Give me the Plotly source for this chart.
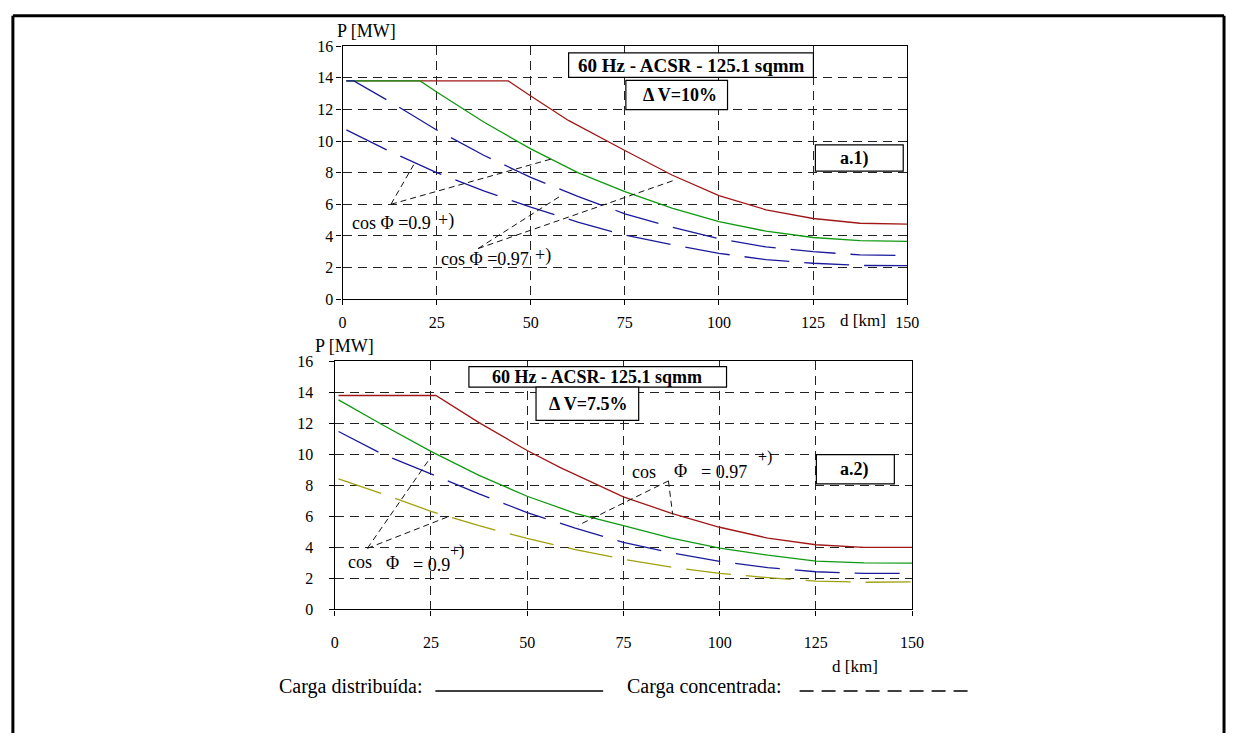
import plotly.graph_objects as go

W, H = 1238, 742
FONT = "Liberation Serif, Times New Roman, serif"

# ---------------- data: top chart (a.1, dV = 10 %) ----------------
d_top_red = [1, 44, 50, 60, 75, 87.5, 100, 112.5, 125, 137.5, 150]
p_top_red = [13.8, 13.8, 12.85, 11.3, 9.4, 7.85, 6.55, 5.65, 5.1, 4.8, 4.75]

d_top_green = [1, 20.6, 25, 37.5, 50, 62.5, 75, 87.5, 100, 112.5, 125, 137.5, 150]
p_top_green = [13.8, 13.8, 13.1, 11.2, 9.5, 8.0, 6.8, 5.75, 4.9, 4.3, 3.9, 3.7, 3.65]

d_top_blue1 = [1, 3, 12.5, 25, 37.5, 50, 62.5, 75, 87.5, 100, 112.5, 125, 137.5, 150]
p_top_blue1 = [13.8, 13.8, 12.5, 10.7, 9.1, 7.7, 6.5, 5.4, 4.55, 3.83, 3.3, 3.0, 2.8, 2.76]

d_top_blue2 = [1, 12.5, 25, 37.5, 50, 62.5, 75, 87.5, 100, 112.5, 125, 137.5, 150]
p_top_blue2 = [10.7, 9.35, 8.0, 6.85, 5.82, 4.87, 4.05, 3.44, 2.9, 2.5, 2.27, 2.13, 2.12]

# leader lines (top chart), pairs of [start, end]
lead_top_d = [[12.85, 18.9], [12.85, 56.0], [36.0, 58.2], [36.0, 88.4]]
lead_top_p = [[6.0, 8.5], [6.0, 8.9], [3.2, 6.57], [3.2, 7.54]]

# ---------------- data: bottom chart (a.2, dV = 7.5 %) ----------------
d_bot_red = [1, 26.3, 37.5, 50, 58.5, 75, 87.5, 100, 112.5, 125, 137.5, 150]
p_bot_red = [13.8, 13.8, 12.05, 10.25, 9.16, 7.26, 6.2, 5.3, 4.6, 4.17, 4.0, 4.0]

d_bot_green = [1, 12.5, 25, 37.5, 50, 62.5, 75, 87.5, 100, 112.5, 125, 137.5, 150]
p_bot_green = [13.52, 11.9, 10.2, 8.65, 7.3, 6.2, 5.4, 4.6, 3.96, 3.5, 3.11, 3.0, 2.99]

d_bot_blue = [1, 12.5, 25, 37.5, 50, 62.5, 75, 87.5, 100, 112.5, 125, 137.5, 150]
p_bot_blue = [11.48, 10.0, 8.75, 7.45, 6.25, 5.25, 4.33, 3.65, 3.1, 2.7, 2.43, 2.32, 2.32]

d_bot_olive = [1, 12.5, 25, 37.5, 50, 62.5, 75, 87.5, 100, 112.5, 125, 137.5, 150]
p_bot_olive = [8.42, 7.45, 6.33, 5.4, 4.58, 3.86, 3.24, 2.72, 2.33, 2.05, 1.82, 1.75, 1.77]

lead_bot_d = [[8.5, 24.9], [8.5, 29.9], [86.7, 63.3], [86.7, 87.8]]
lead_bot_p = [[3.94, 9.8], [3.94, 6.02], [8.29, 5.43], [8.29, 6.13]]

x_ticks = [0, 25, 50, 75, 100, 125, 150]
y_ticks = [0, 2, 4, 6, 8, 10, 12, 14, 16]

RED = "#A01818"
GREEN = "#119911"
BLUE = "#1A1A9A"
OLIVE = "#A0A010"
CONC_DASH = "45px,15px"


def X(px):
    return px / W


def Y(py):
    return 1 - py / H


fig = go.Figure()


def curve(d, p, color, dashed, xa, ya):
    fig.add_trace(go.Scatter(
        x=d, y=p, mode="lines", xaxis=xa, yaxis=ya, showlegend=False,
        hoverinfo="skip",
        line=dict(color=color, width=1.3, dash=CONC_DASH if dashed else "solid")))


curve(d_top_red, p_top_red, RED, False, "x", "y")
curve(d_top_green, p_top_green, GREEN, False, "x", "y")
curve(d_top_blue1, p_top_blue1, BLUE, True, "x", "y")
curve(d_top_blue2, p_top_blue2, BLUE, True, "x", "y")

curve(d_bot_red, p_bot_red, RED, False, "x2", "y2")
curve(d_bot_green, p_bot_green, GREEN, False, "x2", "y2")
curve(d_bot_blue, p_bot_blue, BLUE, True, "x2", "y2")
curve(d_bot_olive, p_bot_olive, OLIVE, True, "x2", "y2")

for dd, pp in zip(lead_top_d, lead_top_p):
    fig.add_trace(go.Scatter(x=dd, y=pp, mode="lines", xaxis="x", yaxis="y",
                             showlegend=False, hoverinfo="skip",
                             line=dict(color="#111", width=1, dash="6px,4px")))
for dd, pp in zip(lead_bot_d, lead_bot_p):
    fig.add_trace(go.Scatter(x=dd, y=pp, mode="lines", xaxis="x2", yaxis="y2",
                             showlegend=False, hoverinfo="skip",
                             line=dict(color="#111", width=1, dash="6px,4px")))

tickfont = dict(family=FONT, size=16, color="black")
grid = dict(showgrid=True, gridcolor="#222", gridwidth=1, griddash="9px,6px",
            zeroline=False, showline=True, linecolor="black", linewidth=1.3,
            mirror=True, ticks="outside", ticklen=5, tickcolor="black",
            tickwidth=1, tickfont=tickfont)

fig.update_layout(
    width=W, height=H, margin=dict(l=0, r=0, t=0, b=0),
    paper_bgcolor="white", plot_bgcolor="white",
    xaxis=dict(domain=[X(343), X(915)], range=[0, 150], tickvals=x_ticks,
               anchor="y", ticklabelstandoff=3, **grid),
    yaxis=dict(domain=[Y(298), Y(39)], range=[0, 16], tickvals=y_ticks,
               anchor="x", **grid),
    xaxis2=dict(domain=[X(335), X(920)], range=[0, 150], tickvals=x_ticks,
                anchor="y2", ticklabelstandoff=13, **grid),
    yaxis2=dict(domain=[Y(615.5), Y(361.7)], range=[0, 16], tickvals=y_ticks,
                anchor="x2", ticklabelstandoff=12, **grid),
)

shapes = []
annotations = []


def box(x0, y0, x1, y1):
    shapes.append(dict(type="rect", xref="paper", yref="paper",
                       x0=X(x0), x1=X(x1), y0=Y(y1), y1=Y(y0),
                       line=dict(color="black", width=1.2),
                       fillcolor="white", layer="above"))


def text(s, cx, cy, size=15, bold=False, xanchor="center"):
    annotations.append(dict(
        text=f"<b>{s}</b>" if bold else s, xref="paper", yref="paper",
        x=X(cx), y=Y(cy), xanchor=xanchor, yanchor="middle", showarrow=False,
        font=dict(family=FONT, size=size, color="black")))


# outer frame
for (x0, y0, x1, y1) in [(9, 8, 1236, 8), (9, 8, 9, 742), (1236, 8, 1236, 742)]:
    shapes.append(dict(type="line", xref="paper", yref="paper",
                       x0=X(x0), x1=X(x1), y0=Y(y0), y1=Y(y1),
                       line=dict(color="black", width=3)))

# top chart boxes
box(572, 46, 820, 71)
text("60 Hz - ACSR - 125.1 sqmm", 697, 59, 19, True)
box(630, 74, 733, 104)
text("Δ V=10%", 685, 89, 18, True)
box(822, 140, 911, 167)
text("a.1)", 862, 154, 18, True)

# bottom chart boxes
box(471, 367, 732, 388)
text("60 Hz - ACSR- 125.1 sqmm", 601, 378, 18, True)
box(539, 388, 643, 422)
text("Δ V=7.5%", 592, 405, 18, True)
box(823, 457, 902, 487)
text("a.2)", 862, 472, 18, True)

# axis titles
text("P [MW]", 367, 24, 18)
text("d [km]", 870, 320, 17)
text("P [MW]", 345, 346, 18)
text("d [km]", 862, 674, 17)

# cos phi labels (top)
text("cos Φ =0.9", 393, 220, 18)
text("+)", 448, 217, 18)
text("cos Φ =0.97", 487, 257, 18)
text("+)", 546, 253, 18)

# cos phi labels (bottom)
text("cos", 361, 567, 18)
text("Φ", 394, 568, 18)
text("= 0.9", 433, 570, 18)
text("+)", 459, 556, 16)
text("cos", 648, 475, 18)
text("Φ", 685, 474, 18)
text("= 0.97", 729, 475, 18)
text("+)", 771, 460, 16)

# legend
LEG_Y = 694
text("Carga distribuída:", 427, LEG_Y, 20, xanchor="right")
shapes.append(dict(type="line", xref="paper", yref="paper",
                   x0=X(437), x1=X(607), y0=Y(LEG_Y + 5), y1=Y(LEG_Y + 5),
                   line=dict(color="black", width=1.5)))
text("Carga concentrada:", 790, LEG_Y, 20, xanchor="right")
shapes.append(dict(type="line", xref="paper", yref="paper",
                   x0=X(806), x1=X(977), y0=Y(LEG_Y + 5), y1=Y(LEG_Y + 5),
                   line=dict(color="black", width=1.5, dash="14px,8px")))

fig.update_layout(shapes=shapes, annotations=annotations)
fig.write_html(
    "out.html",
    config={"displayModeBar": False},
    post_script="document.body.style.margin='0';"
                "document.body.style.overflow='hidden';",
)
